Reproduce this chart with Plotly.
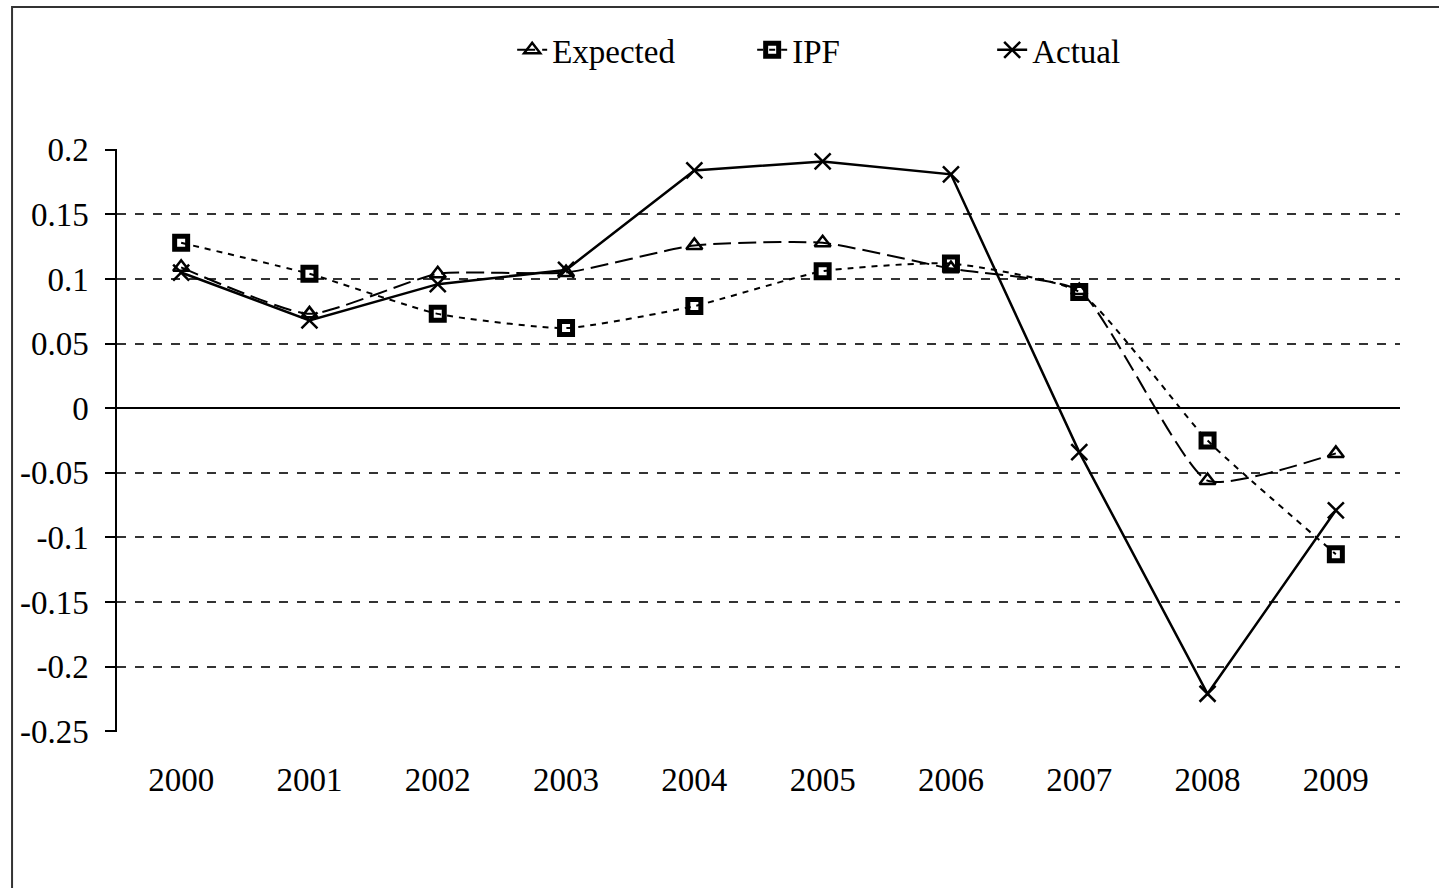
import plotly.graph_objects as go

years = ["2000", "2001", "2002", "2003", "2004", "2005", "2006", "2007", "2008", "2009"]
expected = [0.109, 0.073, 0.104, 0.105, 0.126, 0.128, 0.108, 0.091, -0.056, -0.035]
ipf = [0.128, 0.104, 0.073, 0.062, 0.079, 0.106, 0.112, 0.090, -0.025, -0.113]
actual = [0.105, 0.068, 0.096, 0.107, 0.184, 0.191, 0.181, -0.034, -0.221, -0.079]

y_ticks = [0.2, 0.15, 0.1, 0.05, 0, -0.05, -0.1, -0.15, -0.2, -0.25]
y_labels = ["0.2", "0.15", "0.1", "0.05", "0", "-0.05", "-0.1", "-0.15", "-0.2", "-0.25"]

FONT = "Liberation Serif"

fig = go.Figure()
fig.add_trace(go.Scatter(
    x=years, y=expected, name="Expected", mode="lines+markers",
    line=dict(color="black", width=2, dash="18px,7px", shape="spline", smoothing=0.5),
    marker=dict(symbol="triangle-up-open", size=14, color="black", line=dict(width=2.5)),
))
fig.add_trace(go.Scatter(
    x=years, y=ipf, name="IPF", mode="lines+markers",
    line=dict(color="black", width=2, dash="6px,6px", shape="spline", smoothing=0.5),
    marker=dict(symbol="square-open", size=13, color="black", line=dict(width=5)),
))
fig.add_trace(go.Scatter(
    x=years, y=actual, name="Actual", mode="lines+markers",
    line=dict(color="black", width=2.5),
    marker=dict(symbol="x-thin", size=16, color="black", line=dict(width=2.5, color="black")),
))

fig.update_layout(
    width=1439, height=888,
    margin=dict(l=117, r=39, t=149, b=156, autoexpand=False),
    paper_bgcolor="white", plot_bgcolor="white",
    font=dict(family=FONT, size=33, color="black"),
    showlegend=True,
    legend=dict(orientation="h", x=0.308, xanchor="left", y=1.17, yanchor="middle",
                font=dict(family=FONT, size=33), entrywidth=195, entrywidthmode="pixels",
                tracegroupgap=0, bgcolor="rgba(0,0,0,0)"),
    shapes=[dict(type="rect", xref="paper", yref="paper", x0=-0.0818, x1=1.06,
                 y0=-0.3, y1=1.2436, line=dict(color="#333", width=2))],
)
fig.update_xaxes(
    type="category", range=[-0.5, 9.5], showgrid=False, showline=False, ticks="",
    zeroline=False, tickfont=dict(family=FONT, size=33), ticklabelstandoff=25,
)
fig.update_yaxes(
    range=[-0.2506, 0.2006], tickvals=y_ticks, ticktext=y_labels,
    showgrid=True, gridcolor="#333", gridwidth=1.5, griddash="dash",
    zeroline=True, zerolinecolor="black", zerolinewidth=1.5,
    showline=True, linecolor="black", linewidth=1.5,
    ticks="outside", ticklen=10, tickcolor="black", tickwidth=1.5,
    tickfont=dict(family=FONT, size=33), ticklabelstandoff=10,
)

fig.write_html(
    "out.html",
    config={"displayModeBar": False},
    post_script="document.body.style.margin='0';document.body.style.overflow='hidden';",
)
